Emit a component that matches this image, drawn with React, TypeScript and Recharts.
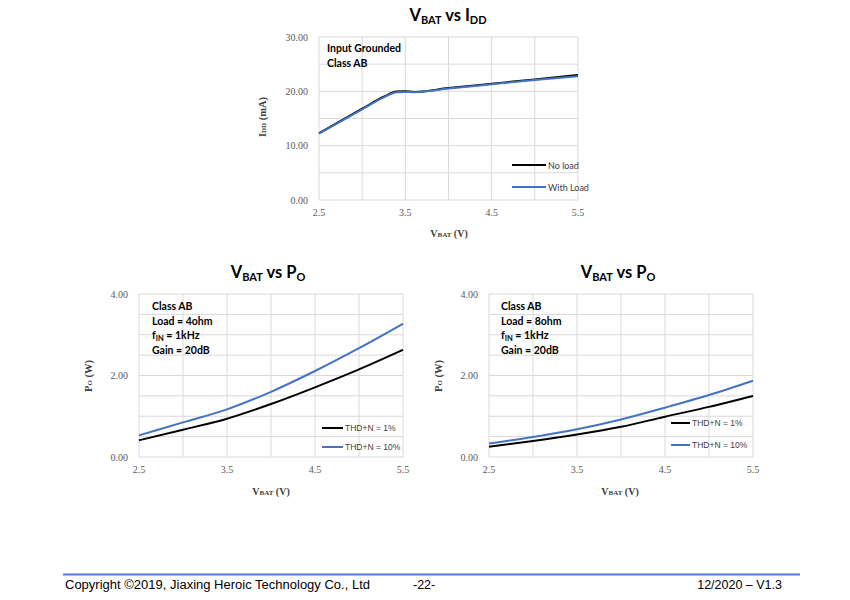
import React from "react";
import { LineChart, Line, XAxis, YAxis, CartesianGrid, Legend } from "recharts";

// supply current vs battery voltage (input grounded)
const VBAT_IDD = [2.5, 3.0, 3.25, 3.4, 3.5, 3.6, 4.0, 4.5, 5.0, 5.5];
const IDD_NO_LOAD = [12.3, 16.8, 19.0, 19.95, 20.0, 19.9, 20.6, 21.4, 22.2, 23.0];
const IDD_WITH_LOAD = [12.2, 16.7, 18.9, 19.85, 19.9, 19.85, 20.5, 21.3, 22.1, 22.8];

// output power vs battery voltage
const VBAT_PO = [2.5, 3.0, 3.5, 4.0, 4.5, 5.0, 5.5];
const PO_4OHM_THD1 = [0.41, 0.67, 0.94, 1.3, 1.71, 2.15, 2.63];
const PO_4OHM_THD10 = [0.53, 0.85, 1.17, 1.6, 2.11, 2.67, 3.27];
const PO_8OHM_THD1 = [0.25, 0.39, 0.55, 0.74, 0.99, 1.23, 1.5];
const PO_8OHM_THD10 = [0.33, 0.49, 0.68, 0.92, 1.21, 1.52, 1.87];

const X_TICKS = [2.5, 3, 3.5, 4, 4.5, 5, 5.5];
const X_LABELS = [2.5, 3.5, 4.5, 5.5];
const IDD_TICKS = [0, 5, 10, 15, 20, 25, 30];
const IDD_LABELS = [0, 10, 20, 30];
const PO_TICKS = [0, 0.5, 1, 1.5, 2, 2.5, 3, 3.5, 4];
const PO_LABELS = [0, 2, 4];

const BLUE = "#4472c4";
const SERIF = "'Liberation Serif', 'Times New Roman', serif";
const TITLE_FONT = "Lato, 'Open Sans', sans-serif";
const ARIAL = "'Liberation Sans', Arial, sans-serif";

type Series = { key: string; name: string; color: string };

function zip(xs: number[], a: number[], b: number[]) {
  return xs.map((x, i) => ({ x, a: a[i], b: b[i] }));
}

function Panel({
  left,
  top,
  plot,
  data,
  series,
  yTicks,
  yLabels,
  yMax,
  legend,
}: {
  left: number;
  top: number;
  plot: [number, number, number, number]; // left, right, top, bottom (page px)
  data: Array<Record<string, number>>;
  series: Series[];
  yTicks: number[];
  yLabels: number[];
  yMax: number;
  legend: { x: number; y: number; lineW: number; rowH: number; font: string; size: number };
}) {
  const [pl, pr, pt, pb] = plot;
  const w = pr - left + 16;
  const h = pb - top + 30;
  const xAxisH = 20;
  const tickStyle = { fontFamily: SERIF, fontSize: 10, fill: "#595959" };
  return (
    <div style={{ position: "absolute", left, top, width: w, height: h, fontFamily: SERIF }}>
      <LineChart
        width={w}
        height={h}
        data={data}
        margin={{ top: pt - top, right: w - (pr - left), left: 0, bottom: h - (pb - top) - xAxisH }}
      >
        <CartesianGrid stroke="#d9d9d9" strokeWidth={1} />
        <XAxis
          dataKey="x"
          type="number"
          domain={[2.5, 5.5]}
          ticks={X_TICKS}
          interval={0}
          height={xAxisH}
          axisLine={false}
          tickLine={false}
          tickSize={0}
          tickMargin={9}
          tickFormatter={(v: number) => (X_LABELS.includes(v) ? String(v) : "")}
          tick={tickStyle}
        />
        <YAxis
          type="number"
          domain={[0, yMax]}
          ticks={yTicks}
          interval={0}
          width={pl - left}
          axisLine={false}
          tickLine={false}
          tickSize={0}
          tickMargin={11}
          tickFormatter={(v: number) => (yLabels.includes(v) ? v.toFixed(2) : "")}
          tick={tickStyle}
        />
        {series.map((s) => (
          <Line
            key={s.key}
            dataKey={s.key}
            name={s.name}
            type="monotone"
            stroke={s.color}
            strokeWidth={2}
            dot={false}
            isAnimationActive={false}
          />
        ))}
        <Legend
          layout="vertical"
          align="center"
          verticalAlign="middle"
          wrapperStyle={{ left: legend.x, top: legend.y, width: 120, height: legend.rowH * 2 }}
          content={({ payload }) => (
            <div>
              {(payload ?? []).map((p: any) => (
                <div
                  key={p.value}
                  style={{ display: "flex", alignItems: "center", height: legend.rowH }}
                >
                  <div style={{ width: legend.lineW, height: 2, background: p.color }} />
                  <span
                    style={{
                      marginLeft: 2,
                      fontFamily: legend.font,
                      fontSize: legend.size,
                      color: "#404040",
                      whiteSpace: "nowrap",
                    }}
                  >
                    {p.value}
                  </span>
                </div>
              ))}
            </div>
          )}
        />
      </LineChart>
    </div>
  );
}

function Title({ x, y, sub }: { x: number; y: number; sub: [string, string] }) {
  return (
    <text x={x} y={y} textAnchor="middle" fontFamily={TITLE_FONT} fontWeight={700} fontSize={16.5} fill="#000">
      V
      <tspan fontSize={11} dy={3}>BAT</tspan>
      <tspan dy={-3}> vs {sub[0]}</tspan>
      <tspan fontSize={11} dy={3}>{sub[1]}</tspan>
    </text>
  );
}

function XLabel({ x, y }: { x: number; y: number }) {
  return (
    <text x={x} y={y} textAnchor="middle" fontFamily={SERIF} fontWeight={700} fontSize={10} fill="#404040">
      V<tspan fontSize={7}>BAT</tspan> (V)
    </text>
  );
}

function YLabel({ x, y, main, sub, unit }: { x: number; y: number; main: string; sub: string; unit: string }) {
  return (
    <text
      x={x}
      y={y}
      transform={`rotate(-90 ${x} ${y})`}
      textAnchor="middle"
      fontFamily={SERIF}
      fontWeight={700}
      fontSize={10.5}
      fill="#404040"
    >
      {main}
      <tspan fontSize={7}>{sub}</tspan>
      <tspan> ({unit})</tspan>
    </text>
  );
}

function Notes({ x, y, lines }: { x: number; y: number; lines: React.ReactNode[] }) {
  return (
    <text fontFamily={TITLE_FONT} fontWeight={700} fontSize={10.5} fill="#000">
      {lines.map((l, i) => (
        <tspan key={i} x={x} y={y + i * 14.5}>
          {l}
        </tspan>
      ))}
    </text>
  );
}

const fIn = (load: string) => [
  "Class AB",
  `Load = ${load}`,
  <>
    f<tspan fontSize={7.5} dy={2}>IN</tspan>
    <tspan dy={-2}> = 1kHz</tspan>
  </>,
  "Gain = 20dB",
];

export default function App() {
  const iddSeries: Series[] = [
    { key: "a", name: "No load", color: "#000000" },
    { key: "b", name: "With Load", color: BLUE },
  ];
  const poSeries: Series[] = [
    { key: "a", name: "THD+N = 1%", color: "#000000" },
    { key: "b", name: "THD+N = 10%", color: BLUE },
  ];

  return (
    <div style={{ position: "absolute", left: 0, top: 0, width: 850, height: 600, background: "#fff" }}>
      <Panel
        left={250}
        top={30}
        plot={[319, 578, 37, 200]}
        data={zip(VBAT_IDD, IDD_NO_LOAD, IDD_WITH_LOAD)}
        series={iddSeries}
        yTicks={IDD_TICKS}
        yLabels={IDD_LABELS}
        yMax={30}
        legend={{ x: 262, y: 124, lineW: 34, rowH: 22, font: TITLE_FONT, size: 9 }}
      />
      <Panel
        left={60}
        top={280}
        plot={[139, 403, 294, 457]}
        data={zip(VBAT_PO, PO_4OHM_THD1, PO_4OHM_THD10)}
        series={poSeries}
        yTicks={PO_TICKS}
        yLabels={PO_LABELS}
        yMax={4}
        legend={{ x: 262, y: 138, lineW: 21, rowH: 19, font: ARIAL, size: 8.5 }}
      />
      <Panel
        left={420}
        top={280}
        plot={[489, 753, 294, 457]}
        data={zip(VBAT_PO, PO_8OHM_THD1, PO_8OHM_THD10)}
        series={poSeries}
        yTicks={PO_TICKS}
        yLabels={PO_LABELS}
        yMax={4}
        legend={{ x: 251, y: 132, lineW: 19, rowH: 22, font: ARIAL, size: 8.5 }}
      />

      <svg
        width={850}
        height={600}
        style={{ position: "absolute", left: 0, top: 0, pointerEvents: "none" }}
      >
        <Title x={448} y={21} sub={["I", "DD"]} />
        <Title x={268} y={278} sub={["P", "O"]} />
        <Title x={618} y={278} sub={["P", "O"]} />

        <XLabel x={449} y={237} />
        <XLabel x={271} y={495} />
        <XLabel x={620} y={495} />

        <YLabel x={266} y={117} main="I" sub="DD" unit="mA" />
        <YLabel x={92} y={376} main="P" sub="O" unit="W" />
        <YLabel x={442} y={376} main="P" sub="O" unit="W" />

        <Notes x={327} y={52} lines={["Input Grounded", "Class AB"]} />
        <Notes x={152} y={310} lines={fIn("4ohm")} />
        <Notes x={501} y={310} lines={fIn("8ohm")} />

        <rect x={63} y={573.5} width={737} height={2} fill="#4a7ee0" />
        <text fontFamily={ARIAL} fontSize={12.5} fill="#000" y={589}>
          <tspan x={65} textLength={305} lengthAdjust="spacingAndGlyphs">
            Copyright ©2019, Jiaxing Heroic Technology Co., Ltd
          </tspan>
          <tspan x={413}>-22-</tspan>
        </text>
        <text x={782} y={589} textAnchor="end" fontFamily={ARIAL} fontSize={12.5} fill="#000">
          12/2020 – V1.3
        </text>
      </svg>
    </div>
  );
}
